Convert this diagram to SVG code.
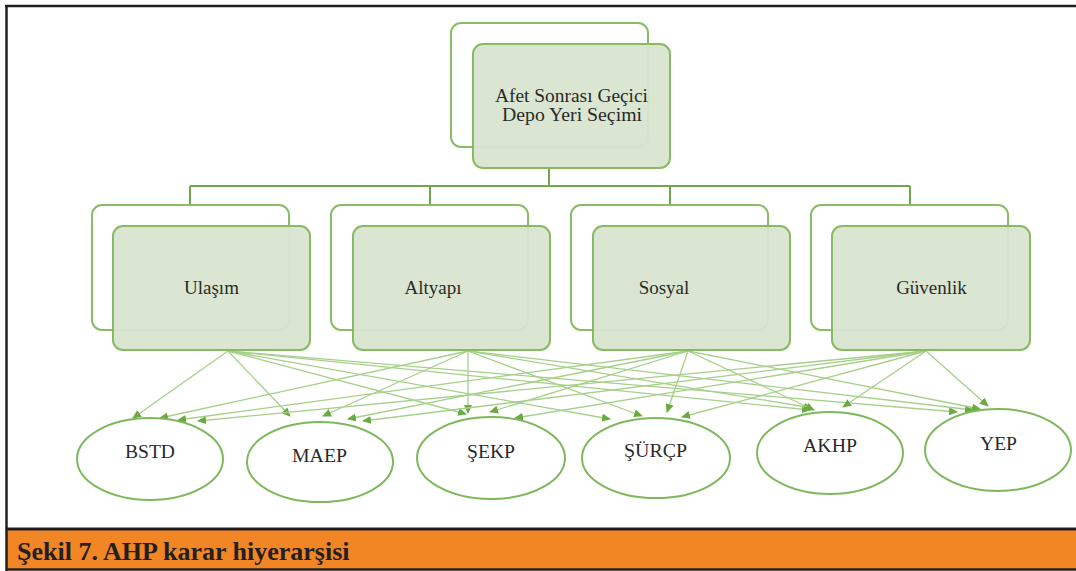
<svg xmlns="http://www.w3.org/2000/svg" width="1076" height="571" viewBox="0 0 1076 571">
<style>
.back{fill:#ffffff;stroke:#88bd66;stroke-width:2}
.front{fill:#d8e5cf;stroke:#86bb62;stroke-width:2;fill-opacity:0.95}
.ell{fill:#ffffff;stroke:#7fb85c;stroke-width:2}
.t{fill:#2a2a2a;text-anchor:middle}
.trunk{stroke:#6ea84a;stroke-width:2;fill:none}
.c{stroke:#a6d08a;stroke-width:1.3;fill:none;marker-end:url(#ah)}
</style>
<defs>
<marker id="ah" markerUnits="userSpaceOnUse" markerWidth="9" markerHeight="8" refX="8" refY="4" orient="auto">
<path d="M0,0 L9,4 L0,8 z" fill="#6aab41"/>
</marker>
</defs>
<rect width="1076" height="571" fill="#ffffff"/>
<g id="frame">
<rect x="6" y="530" width="1070" height="39" fill="#f28524"/>
<line x1="5" y1="6" x2="1076" y2="6" stroke="#231f20" stroke-width="2.5"/>
<line x1="6.5" y1="5" x2="6.5" y2="571" stroke="#231f20" stroke-width="2.5"/>
<line x1="6" y1="529" x2="1076" y2="529" stroke="#231f20" stroke-width="3"/>
<line x1="6" y1="569.5" x2="1076" y2="569.5" stroke="#231f20" stroke-width="2.5"/>
<text x="17" y="560" font-family="Liberation Serif,'Times New Roman',serif" font-weight="bold" font-size="26" fill="#231f20">Şekil 7. AHP karar hiyerarşisi</text>
</g>
<g id="connectors">
<path class="trunk" d="M549,168 V186 M190,186 H910 M190,186 V205 M430,186 V205 M670,186 V205 M910,186 V205"/>
<line class="c" x1="228" y1="351" x2="133" y2="418"/>
<line class="c" x1="228" y1="351" x2="290" y2="416"/>
<line class="c" x1="228" y1="351" x2="466" y2="414"/>
<line class="c" x1="228" y1="351" x2="610" y2="419"/>
<line class="c" x1="228" y1="351" x2="810" y2="410"/>
<line class="c" x1="228" y1="351" x2="957" y2="412"/>
<line class="c" x1="468" y1="351" x2="160" y2="418"/>
<line class="c" x1="468" y1="351" x2="323" y2="416"/>
<line class="c" x1="468" y1="351" x2="468" y2="413"/>
<line class="c" x1="468" y1="351" x2="642" y2="416"/>
<line class="c" x1="468" y1="351" x2="812" y2="408"/>
<line class="c" x1="468" y1="351" x2="973" y2="410"/>
<line class="c" x1="688" y1="351" x2="178" y2="420"/>
<line class="c" x1="688" y1="351" x2="348" y2="419"/>
<line class="c" x1="688" y1="351" x2="490" y2="412"/>
<line class="c" x1="688" y1="351" x2="667" y2="412"/>
<line class="c" x1="688" y1="351" x2="814" y2="410"/>
<line class="c" x1="688" y1="351" x2="980" y2="409"/>
<line class="c" x1="926" y1="351" x2="198" y2="421"/>
<line class="c" x1="926" y1="351" x2="363" y2="421"/>
<line class="c" x1="926" y1="351" x2="515" y2="418"/>
<line class="c" x1="926" y1="351" x2="682" y2="417"/>
<line class="c" x1="926" y1="351" x2="843" y2="407"/>
<line class="c" x1="926" y1="351" x2="988" y2="406"/>
</g>
<g font-family="Liberation Serif,'Times New Roman',serif">
<g id="goal">
<rect class="back" x="451" y="23" width="197" height="124" rx="10"/>
<rect class="front" x="473" y="44" width="197" height="124" rx="10"/>
<text class="t" x="571.5" y="102" font-size="18" textLength="153" lengthAdjust="spacingAndGlyphs">Afet Sonrası Geçici</text>
<text class="t" x="572" y="121" font-size="18" textLength="140" lengthAdjust="spacingAndGlyphs">Depo Yeri Seçimi</text>
</g>
<g id="ulasim">
<rect class="back" x="92" y="205" width="197" height="125" rx="10"/>
<rect class="front" x="113" y="226" width="197" height="124" rx="10"/>
<text class="t" x="211.5" y="294" font-size="19">Ulaşım</text>
</g>
<g id="altyapi">
<rect class="back" x="331" y="205" width="197" height="125" rx="10"/>
<rect class="front" x="353" y="226" width="197" height="124" rx="10"/>
<text class="t" x="433" y="294" font-size="19">Altyapı</text>
</g>
<g id="sosyal">
<rect class="back" x="571" y="205" width="197" height="125" rx="10"/>
<rect class="front" x="593" y="226" width="197" height="124" rx="10"/>
<text class="t" x="664" y="294" font-size="19">Sosyal</text>
</g>
<g id="guvenlik">
<rect class="back" x="811" y="205" width="197" height="125" rx="10"/>
<rect class="front" x="832" y="226" width="198" height="124" rx="10"/>
<text class="t" x="931.5" y="294" font-size="19">Güvenlik</text>
</g>
<g id="bstd">
<ellipse class="ell" cx="150" cy="459" rx="73" ry="41"/>
<text class="t" x="150" y="458" font-size="19" textLength="50" lengthAdjust="spacingAndGlyphs">BSTD</text>
</g>
<g id="maep">
<ellipse class="ell" cx="320" cy="462" rx="73" ry="40"/>
<text class="t" x="319.5" y="462" font-size="19" textLength="55" lengthAdjust="spacingAndGlyphs">MAEP</text>
</g>
<g id="sekp">
<ellipse class="ell" cx="491" cy="458" rx="74" ry="41"/>
<text class="t" x="491" y="458" font-size="19" textLength="48" lengthAdjust="spacingAndGlyphs">ŞEKP</text>
</g>
<g id="surcp">
<ellipse class="ell" cx="656" cy="458" rx="74" ry="40"/>
<text class="t" x="655.5" y="457" font-size="19" textLength="63" lengthAdjust="spacingAndGlyphs">ŞÜRÇP</text>
</g>
<g id="akhp">
<ellipse class="ell" cx="830" cy="453" rx="73" ry="41"/>
<text class="t" x="830" y="452" font-size="19" textLength="54" lengthAdjust="spacingAndGlyphs">AKHP</text>
</g>
<g id="yep">
<ellipse class="ell" cx="998" cy="450" rx="73" ry="41"/>
<text class="t" x="998.5" y="450" font-size="19" textLength="37" lengthAdjust="spacingAndGlyphs">YEP</text>
</g>
</g>
</svg>
